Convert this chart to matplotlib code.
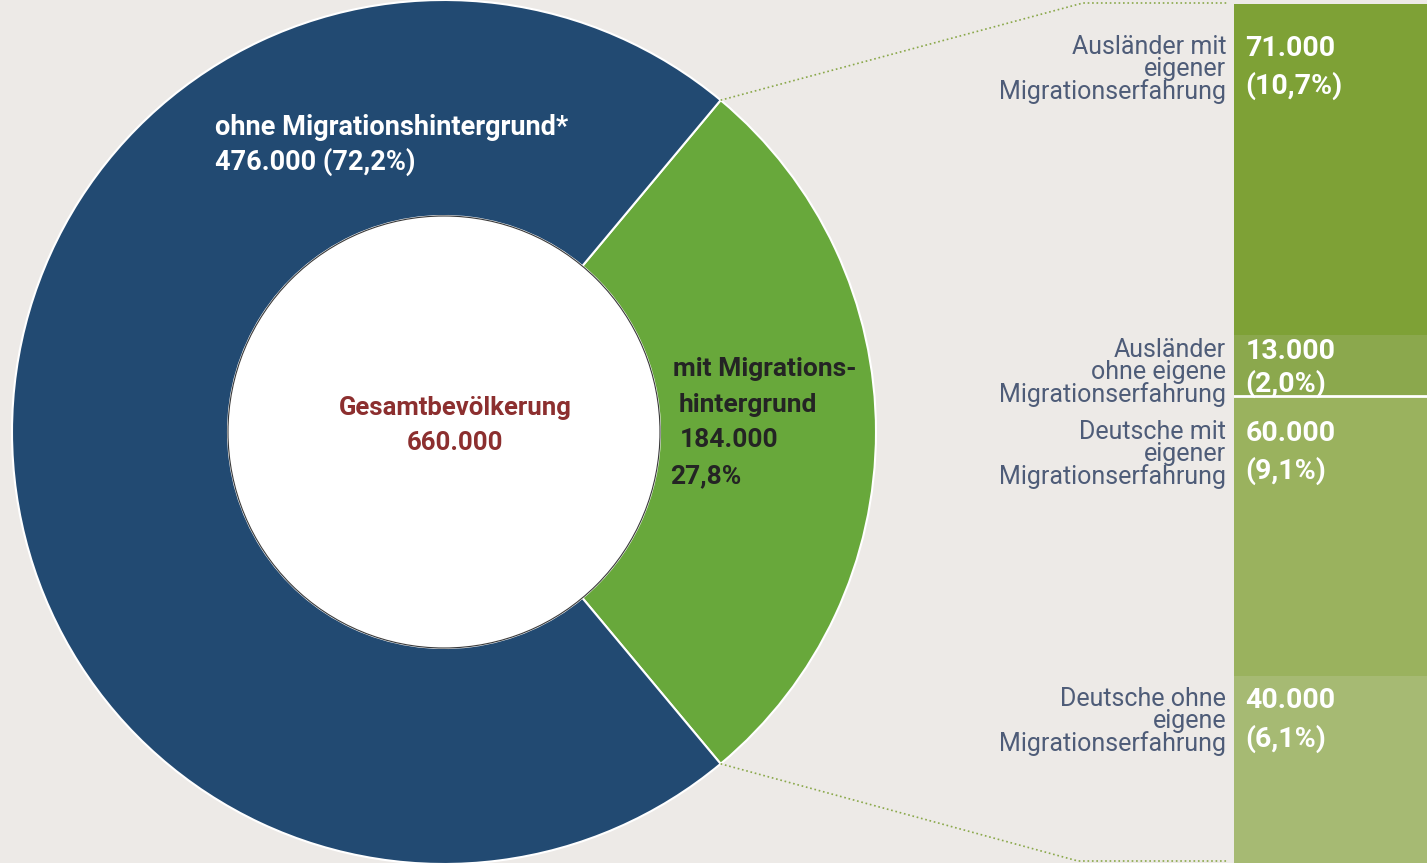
import numpy as np
import matplotlib
matplotlib.use("Agg")
import matplotlib.pyplot as plt
from matplotlib import font_manager
from matplotlib.patches import Circle

# Data
ring_labels = ["mit Migrationshintergrund", "ohne Migrationshintergrund*"]
ring_values = [184000, 476000]
total_label = "Gesamtbevölkerung"
total_value = "660.000"

sub_labels = [
    "Ausländer mit\neigener\nMigrationserfahrung",
    "Ausländer\nohne eigene\nMigrationserfahrung",
    "Deutsche mit\neigener\nMigrationserfahrung",
    "Deutsche ohne\neigene\nMigrationserfahrung",
]
sub_values = [71000, 13000, 60000, 40000]
sub_value_text = ["71.000", "13.000", "60.000", "40.000"]
sub_pct_text = ["(10,7%)", "(2,0%)", "(9,1%)", "(6,1%)"]

# text offsets below each segment top (points)
label_off = [22, 1.5, 17, 8]
value_off = [22, 2, 17, 8]
pct_gap = [27, 23, 27, 27]

# Colours
BG = "#edeae7"
BLUE = "#224a72"
GREEN = "#68a83b"
SUB_COLORS = ["#7ea136", "#8ba84d", "#9ab25e", "#a6ba73"]
LABEL_COL = "#4e5c78"
RED = "#8c2f2f"


def pick_font(names):
    for n in names:
        try:
            font_manager.findfont(n, fallback_to_default=False)
            return n
        except Exception:
            pass
    return "DejaVu Sans"


NARROW = pick_font(["Liberation Sans Narrow", "Roboto", "DejaVu Sans"])
BOLD = pick_font(["Roboto", "Liberation Sans", "DejaVu Sans"])

W, H = 1427, 863
fig = plt.figure(figsize=(W / 100, H / 100), dpi=100)
fig.patch.set_facecolor(BG)

# Donut
ax = fig.add_axes([0, 0, 1, 1])
cx, cy, R = 444, 431, 432
green_angle = 360 * ring_values[0] / sum(ring_values)
start = -green_angle / 2
wedges, _ = ax.pie(ring_values, colors=[GREEN, BLUE], startangle=start,
                   center=(cx, cy), radius=R, counterclock=True,
                   wedgeprops=dict(width=R / 2, edgecolor="white", linewidth=1.5))
ax.add_patch(Circle((cx, cy), R / 2, facecolor="white", edgecolor="#3a3a3a",
                    linewidth=0.8, zorder=3))
ax.set_xlim(0, W)
ax.set_ylim(0, H)
ax.set_aspect("equal")
ax.axis("off")

# connector lines from the green wedge edges to the column
t1 = np.deg2rad(start + green_angle)
t2 = np.deg2rad(start)
top_pt = (cx + R * np.cos(t1), cy + R * np.sin(t1))
bot_pt = (cx + R * np.cos(t2), cy + R * np.sin(t2))
ax.plot([top_pt[0], 1083, 1227], [top_pt[1], H - 3, H - 3], ls=":", color="#8aa84a", lw=1.2)
ax.plot([bot_pt[0], 1078, 1227], [bot_pt[1], 2, 2], ls=":", color="#8aa84a", lw=1.2)

# ring texts
ax.text(215, H - 127, "ohne Migrationshintergrund*", color="white", fontsize=19.5,
        fontweight="bold", family=BOLD, va="center", ha="left")
ax.text(215, H - 162, "476.000 (72,2%)", color="white", fontsize=19.5,
        fontweight="bold", family=BOLD, va="center", ha="left")
ax.text(455, H - 408, total_label, color=RED, fontsize=18.5, fontweight="bold",
        family=BOLD, va="center", ha="center", zorder=4)
ax.text(455, H - 443, total_value, color=RED, fontsize=18.5, fontweight="bold",
        family=BOLD, va="center", ha="center", zorder=4)
for x, y, s in [(673, 369, "mit Migrations-"), (679, 405, "hintergrund"),
                (680, 440, "184.000"), (670, 476, "27,8%")]:
    ax.text(x, H - y, s, color="#242424", fontsize=19, fontweight="bold",
            family=BOLD, va="center", ha="left", zorder=4)

# Column breakdown
ax2 = fig.add_axes([1234 / W, 0, 193 / W, 859 / H])
bottoms = np.concatenate([[0], np.cumsum(sub_values)[:-1]])
ax2.bar(0, sub_values, bottom=bottoms, width=1, color=SUB_COLORS, linewidth=0)
ax2.set_xlim(-0.5, 0.5)
ax2.set_ylim(sum(sub_values), 0)
ax2.axis("off")
ax2.axhline(bottoms[2], color="white", lw=2)

for i in range(len(sub_values)):
    top = bottoms[i]
    ax2.annotate(sub_labels[i], xy=(-0.04, top), xycoords=("axes fraction", "data"),
                 xytext=(0, -label_off[i]), textcoords="offset points", ha="right",
                 va="top", fontsize=18, family=NARROW, color=LABEL_COL,
                 linespacing=0.9, annotation_clip=False)
    ax2.annotate(sub_value_text[i], xy=(0.06, top), xycoords=("axes fraction", "data"),
                 xytext=(0, -value_off[i]), textcoords="offset points", ha="left",
                 va="top", fontsize=20.5, fontweight="bold", family=NARROW, color="white")
    ax2.annotate(sub_pct_text[i], xy=(0.06, top), xycoords=("axes fraction", "data"),
                 xytext=(0, -value_off[i] - pct_gap[i]), textcoords="offset points",
                 ha="left", va="top", fontsize=20.5, fontweight="bold", family=NARROW,
                 color="white")

fig.savefig("out.png", dpi=100, facecolor=BG)
